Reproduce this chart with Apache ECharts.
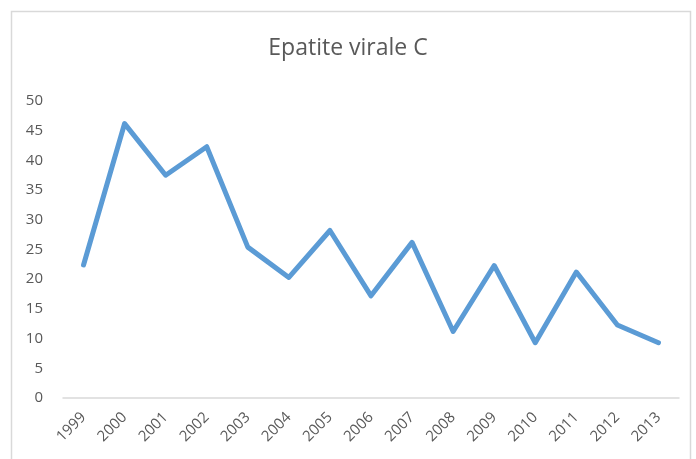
<!DOCTYPE html>
<html>
<head>
<meta charset="utf-8">
<script src="https://cdn.jsdelivr.net/npm/echarts@6/dist/echarts.min.js"></script>
<style>
  html, body { margin: 0; padding: 0; background: #fff; }
  #chart { width: 696px; height: 459px; }
</style>
</head>
<body>
<div id="chart"></div>
<script>
const years = ['1999', '2000', '2001', '2002', '2003', '2004', '2005', '2006',
  '2007', '2008', '2009', '2010', '2011', '2012', '2013'];
const cases = [22.4, 46.2, 37.5, 42.3, 25.4, 20.3, 28.2, 17.2, 26.2, 11.2, 22.3, 9.3, 21.2, 12.3, 9.3];

function renderChart() {
  const chart = echarts.init(document.getElementById('chart'));
  const font = '"Open Sans", "Noto Sans", sans-serif';

  chart.setOption({
    animation: false,
    textStyle: { fontFamily: font },
    graphic: [{
      type: 'rect',
      shape: { x: 11.5, y: 11.5, width: 679, height: 470 },
      style: { fill: 'none', stroke: '#d9d9d9', lineWidth: 1.5 },
      silent: true
    }],
    title: {
      text: 'Epatite virale C',
      left: 'center',
      top: 32,
      textStyle: { fontFamily: font, fontSize: 23, fontWeight: 'normal', color: '#595959' }
    },
    grid: { left: 63, right: 17, top: 101, bottom: 61, containLabel: false },
    xAxis: {
      type: 'category',
      data: years,
      boundaryGap: true,
      axisLine: { lineStyle: { color: '#d9d9d9', width: 1.5 } },
      axisTick: { show: false },
      axisLabel: { rotate: 45, margin: 17, color: '#595959', fontSize: 15, fontFamily: font }
    },
    yAxis: {
      type: 'value',
      min: 0,
      max: 50,
      interval: 5,
      axisLine: { show: false },
      axisTick: { show: false },
      splitLine: { show: false },
      axisLabel: { margin: 20, color: '#595959', fontSize: 15, fontFamily: font }
    },
    series: [{
      type: 'line',
      data: cases,
      showSymbol: false,
      symbol: 'none',
      lineStyle: { color: '#5b9bd5', width: 5, cap: 'round', join: 'round' }
    }]
  });
}

renderChart();
</script>
</body>
</html>
